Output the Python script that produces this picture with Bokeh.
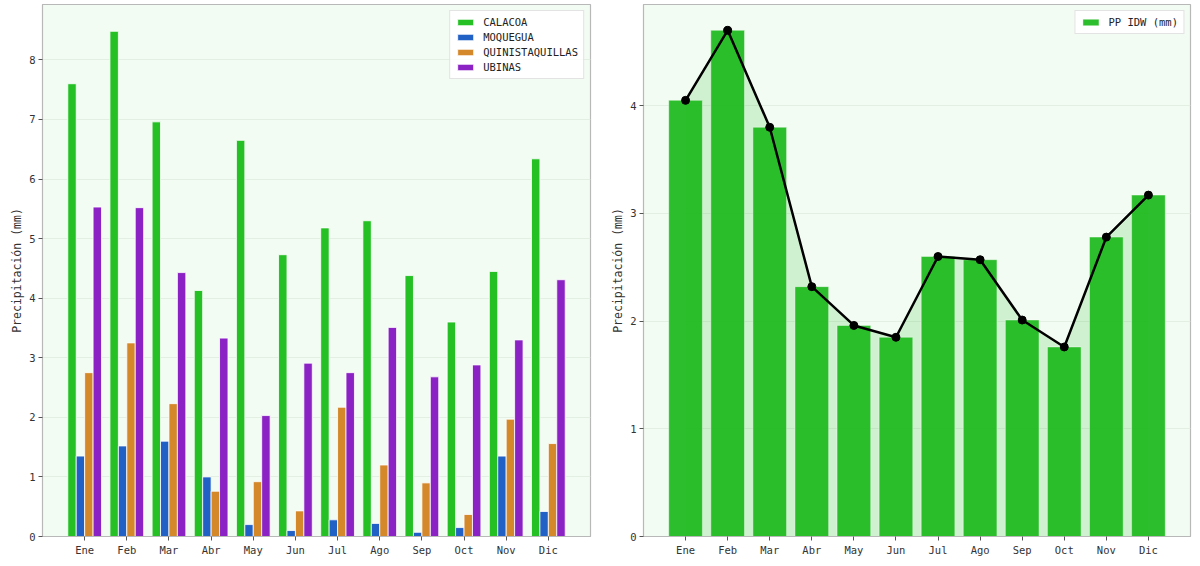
from bokeh.plotting import figure
from bokeh.layouts import row
from bokeh.models import FactorRange, Range1d, SingleIntervalTicker, Legend, LegendItem, ColumnDataSource
from bokeh.transform import dodge
from bokeh.embed import file_html
from bokeh.resources import INLINE

meses = ["Ene", "Feb", "Mar", "Abr", "May", "Jun", "Jul", "Ago", "Sep", "Oct", "Nov", "Dic"]
calacoa = [7.60, 8.48, 6.96, 4.13, 6.65, 4.73, 5.18, 5.30, 4.38, 3.60, 4.45, 6.34]
moquegua = [1.35, 1.52, 1.60, 1.00, 0.20, 0.10, 0.28, 0.22, 0.07, 0.15, 1.35, 0.42]
quinistaquillas = [2.75, 3.25, 2.23, 0.76, 0.92, 0.43, 2.17, 1.20, 0.90, 0.37, 1.97, 1.56]
ubinas = [5.53, 5.52, 4.43, 3.33, 2.03, 2.91, 2.75, 3.51, 2.68, 2.88, 3.30, 4.31]
pp_idw = [4.05, 4.70, 3.80, 2.32, 1.96, 1.85, 2.60, 2.57, 2.01, 1.76, 2.78, 3.17]

estaciones = ["CALACOA", "MOQUEGUA", "QUINISTAQUILLAS", "UBINAS"]
colores = ["#24c024", "#2160c4", "#d4882a", "#8a22c4"]
series = [calacoa, moquegua, quinistaquillas, ubinas]
offsets = [-0.3, -0.1, 0.1, 0.3]

FONT = "DejaVu Sans Mono"
BG = "#f3fcf3"


def style(p):
    p.background_fill_color = BG
    p.border_fill_color = "white"
    p.outline_line_color = "#b8b8b8"
    p.outline_line_width = 1.2
    p.xgrid.visible = False
    p.ygrid.grid_line_color = "#e2efe2"
    p.ygrid.grid_line_width = 1
    for ax in (p.xaxis, p.yaxis):
        ax.axis_line_color = "#b8b8b8"
        ax.major_tick_line_color = "#555555"
        ax.major_tick_out = 4
        ax.major_tick_in = 0
        ax.minor_tick_line_color = None
        ax.major_label_text_font = FONT
        ax.major_label_text_font_size = "10.5px"
        ax.major_label_text_color = "#333333"
        ax.major_label_standoff = 3
        ax.axis_label_text_font = FONT
        ax.axis_label_text_font_size = "11.5px"
        ax.axis_label_text_font_style = "normal"
        ax.axis_label_text_color = "#333333"
    p.yaxis.axis_label = "Precipitación (mm)"
    p.yaxis.axis_label_standoff = 2
    p.yaxis.ticker = SingleIntervalTicker(interval=1)


# ---- left chart ----
src = ColumnDataSource(dict(mes=meses, CALACOA=calacoa, MOQUEGUA=moquegua,
                            QUINISTAQUILLAS=quinistaquillas, UBINAS=ubinas))
p1 = figure(x_range=FactorRange(*meses, range_padding=0.5, range_padding_units="absolute"),
            y_range=Range1d(0, 8.93), frame_width=548, frame_height=532,
            output_backend="svg", toolbar_location=None,
            min_border_left=42, min_border_right=10, min_border_top=4, min_border_bottom=0)
style(p1)
items = []
for name, col, off in zip(estaciones, colores, offsets):
    r = p1.vbar(x=dodge("mes", off, range=p1.x_range), top=name, width=0.2, source=src,
                fill_color=col, line_color="white", line_width=0.8)
    items.append(LegendItem(label=name, renderers=[r]))
leg1 = Legend(items=items, location="top_right")
p1.add_layout(leg1)

# ---- right chart ----
src2 = ColumnDataSource(dict(mes=meses, pp=pp_idw))
p2 = figure(x_range=FactorRange(*meses, range_padding=0.5, range_padding_units="absolute"),
            y_range=Range1d(0, 4.94), frame_width=547, frame_height=532,
            output_backend="svg", toolbar_location=None,
            min_border_left=43, min_border_right=2, min_border_top=4, min_border_bottom=0)
style(p2)
p2.varea(x="mes", y1=0, y2="pp", source=src2, fill_color="#24c024", fill_alpha=0.17)
rb = p2.vbar(x="mes", top="pp", width=0.8, source=src2, fill_color="#22bb22",
             fill_alpha=0.95, line_color="white", line_alpha=0.4, line_width=1)
p2.line(x="mes", y="pp", source=src2, line_color="black", line_width=2.5)
p2.scatter(x="mes", y="pp", source=src2, size=8, fill_color="black", line_color="black")
leg2 = Legend(items=[LegendItem(label="PP IDW (mm)", renderers=[rb])], location="top_right")
p2.add_layout(leg2)

for leg in (leg1, leg2):
    leg.label_text_font = FONT
    leg.label_text_font_size = "10.5px"
    leg.label_text_color = "#222222"
    leg.glyph_width = 20
    leg.glyph_height = 8
    leg.label_height = 10
    leg.spacing = 3
    leg.padding = 5
    leg.margin = 6
    leg.border_line_color = "#c8c8c8"
    leg.background_fill_color = "white"
    leg.background_fill_alpha = 0.85
    leg.label_standoff = 8

layout = row(p1, p2, spacing=0)
open("out.html", "w").write(file_html(layout, INLINE))
